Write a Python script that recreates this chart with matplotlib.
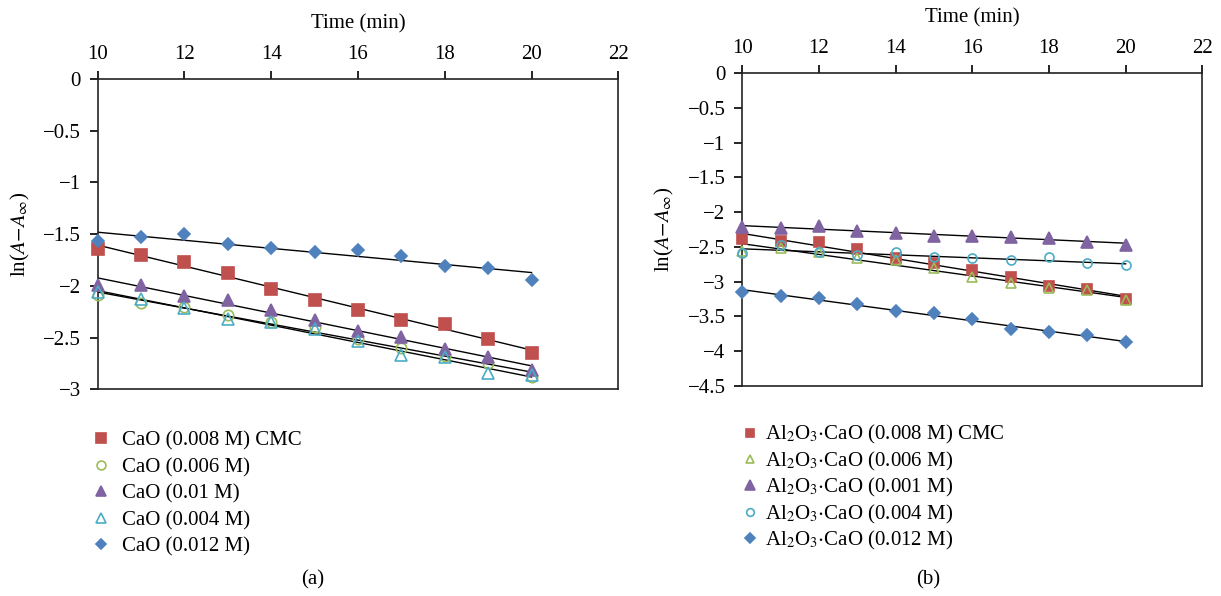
import numpy as np
import matplotlib
matplotlib.use("Agg")
import matplotlib.pyplot as plt
from matplotlib.lines import Line2D

plt.rcParams['font.family'] = ['Liberation Serif', 'DejaVu Serif']
plt.rcParams['mathtext.fontset'] = 'stix'
plt.rcParams['font.size'] = 15

# time (min)
time = [10, 11, 12, 13, 14, 15, 16, 17, 18, 19, 20]

# panel (a): CaO
a_labels = ["CaO (0.008 M) CMC", "CaO (0.006 M)", "CaO (0.01 M)",
            "CaO (0.004 M)", "CaO (0.012 M)"]
a_cmc = [-1.647, -1.702, -1.767, -1.874, -2.028, -2.137, -2.234, -2.331, -2.369, -2.512, -2.647]
a_006 = [-2.089, -2.163, -2.208, -2.282, -2.347, -2.401, -2.515, -2.599, -2.679, -2.750, -2.879]
a_001 = [-1.992, -1.992, -2.099, -2.137, -2.234, -2.331, -2.434, -2.492, -2.614, -2.690, -2.814]
a_004 = [-2.057, -2.131, -2.218, -2.324, -2.347, -2.421, -2.531, -2.669, -2.692, -2.846, -2.863]
a_012 = [-1.564, -1.525, -1.499, -1.596, -1.634, -1.673, -1.654, -1.712, -1.808, -1.828, -1.944]

# panel (b): Al2O3.CaO
b_labels = [r"Al$_2$O$_3$$\cdot$CaO (0.008 M) CMC", r"Al$_2$O$_3$$\cdot$CaO (0.006 M)",
            r"Al$_2$O$_3$$\cdot$CaO (0.001 M)", r"Al$_2$O$_3$$\cdot$CaO (0.004 M)",
            r"Al$_2$O$_3$$\cdot$CaO (0.012 M)"]
b_cmc = [-2.387, -2.411, -2.430, -2.535, -2.665, -2.737, -2.833, -2.939, -3.060, -3.103, -3.251]
b_006 = [-2.555, -2.521, -2.570, -2.665, -2.689, -2.809, -2.939, -3.025, -3.097, -3.122, -3.266]
b_001 = [-2.218, -2.233, -2.200, -2.267, -2.296, -2.344, -2.344, -2.362, -2.368, -2.430, -2.469]
b_004 = [-2.593, -2.473, -2.578, -2.617, -2.578, -2.651, -2.665, -2.694, -2.651, -2.737, -2.766]
b_012 = [-3.146, -3.204, -3.241, -3.328, -3.420, -3.449, -3.544, -3.688, -3.731, -3.770, -3.875]

red, green, purple, cyan, blue = "#C0504D", "#9BBB59", "#8064A2", "#4BACC6", "#4F81BD"

a_styles = [("s", red, True, 8), ("o", green, False, 7.5), ("^", purple, True, 8.5),
            ("^", cyan, False, 8.5), ("D", blue, True, 6.5)]
b_styles = [("s", red, True, 7.5), ("^", green, False, 6.5), ("^", purple, True, 8),
            ("o", cyan, False, 6.5), ("D", blue, True, 6)]

fig = plt.figure(figsize=(12.21, 5.96), dpi=100)
ax1 = fig.add_axes([0.080, 0.3468, 0.4264, 0.5206])
ax2 = fig.add_axes([0.6079, 0.3529, 0.3768, 0.5241])


def draw(ax, series, styles, labels, ylim, yticks):
    handles = []
    for ys, (m, c, filled, ms), lab in zip(series, styles, labels):
        ax.plot(time, ys, linestyle="none", marker=m, markersize=ms,
                markerfacecolor=c if filled else "none", markeredgecolor=c,
                markeredgewidth=1.2, clip_on=False, zorder=3)
        # linear trend line
        k, b = np.polyfit(time, ys, 1)
        ax.plot([time[0], time[-1]], [k * time[0] + b, k * time[-1] + b],
                color="black", lw=1.0, zorder=2)
        handles.append(Line2D([], [], linestyle="none", marker=m, markersize=ms * 0.85,
                              markerfacecolor=c if filled else "none",
                              markeredgecolor=c, markeredgewidth=1.2, label=lab))
    ax.set_xlim(10, 22)
    ax.set_ylim(*ylim)
    ax.set_xticks([10, 12, 14, 16, 18, 20, 22])
    ax.set_yticks(yticks)
    ax.set_yticklabels([("%g" % t).replace("-", "\u2212") for t in yticks])
    ax.xaxis.tick_top()
    ax.xaxis.set_label_position("top")
    ax.tick_params(axis="x", direction="out", length=6, width=1.2, pad=5)
    ax.tick_params(axis="y", direction="out", length=6, width=1.2, pad=6)
    for s in ax.spines.values():
        s.set_linewidth(1.2)
        s.set_color("#222222")
    ax.set_xlabel("Time (min)", labelpad=12)
    ax.set_ylabel(r"ln($\mathit{A}$$-$$\mathit{A}_{\infty}$)", labelpad=8)
    return handles


h1 = draw(ax1, [a_cmc, a_006, a_001, a_004, a_012], a_styles, a_labels,
          (-3, 0), [0, -0.5, -1, -1.5, -2, -2.5, -3])
h2 = draw(ax2, [b_cmc, b_006, b_001, b_004, b_012], b_styles, b_labels,
          (-4.5, 0), [0, -0.5, -1, -1.5, -2, -2.5, -3, -3.5, -4, -4.5])

fig.legend(handles=h1, loc="upper left", bbox_to_anchor=(0.0655, 0.294), frameon=False,
           handlelength=1.0, handletextpad=0.5, labelspacing=0.33, borderpad=0)
fig.legend(handles=h2, loc="upper left", bbox_to_anchor=(0.5975, 0.307), frameon=False,
           handlelength=1.0, handletextpad=0.2, labelspacing=0.16, borderpad=0)

fig.text(0.2565, 0.027, "(a)", ha="center", va="center")
fig.text(0.760, 0.027, "(b)", ha="center", va="center")

fig.savefig("out.png", dpi=100)
